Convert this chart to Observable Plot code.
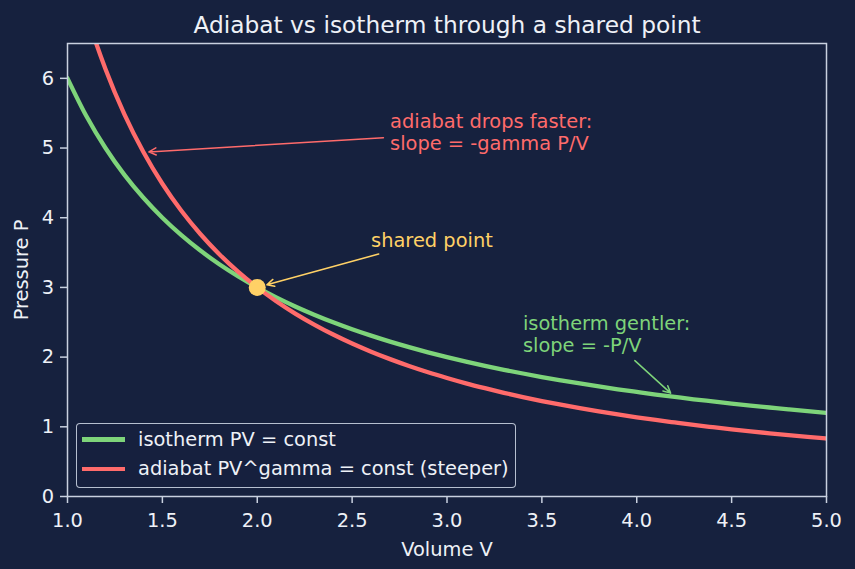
<!DOCTYPE html>
<html><head><meta charset="utf-8">
<script src="https://cdn.jsdelivr.net/npm/d3@7"></script>
<script src="https://cdn.jsdelivr.net/npm/@observablehq/plot@0.6"></script>
<style>
html,body{margin:0;padding:0;background:#16213e;}
#wrap{position:relative;width:855px;height:569px;font-family:"DejaVu Sans",sans-serif;}
#legend{position:absolute;left:76px;top:423px;width:440px;height:65px;box-sizing:border-box;border:1.5px solid rgba(201,209,224,0.9);border-radius:4px;padding-top:0.75px;background:rgba(22,33,62,0.8);}
.row{display:flex;align-items:center;height:29.5px;}
.sw{width:43px;height:4.3px;margin-left:4.5px;margin-right:13.5px;}
.lab{font-size:19.4px;color:#eef1f7;white-space:nowrap;line-height:1;}
</style></head>
<body>
<div id="wrap"><div id="chart"></div><div id="legend"></div></div>
<script>
// ---- data ----
const volume = [1.0,1.1,1.2,1.3,1.4,1.5,1.6,1.7,1.8,1.9,2.0,2.1,2.2,2.3,2.4,2.5,2.6,2.7,2.8,2.9,3.0,3.1,3.2,3.3,3.4,3.5,3.6,3.7,3.8,3.9,4.0,4.1,4.2,4.3,4.4,4.5,4.6,4.7,4.8,4.9,5.0];
const isothermP = [6.000,5.455,5.000,4.615,4.286,4.000,3.750,3.529,3.333,3.158,3.000,2.857,2.727,2.609,2.500,2.400,2.308,2.222,2.143,2.069,2.000,1.935,1.875,1.818,1.765,1.714,1.667,1.622,1.579,1.538,1.500,1.463,1.429,1.395,1.364,1.333,1.304,1.277,1.250,1.224,1.200];
const adiabatP = [7.917,6.928,6.134,5.483,4.943,4.488,4.100,3.767,3.477,3.223,3.000,2.802,2.625,2.467,2.324,2.195,2.078,1.971,1.873,1.783,1.701,1.624,1.554,1.488,1.427,1.370,1.317,1.268,1.221,1.178,1.137,1.098,1.062,1.027,0.995,0.964,0.935,0.907,0.881,0.856,0.832];
const seriesNames = ["isotherm PV = const", "adiabat PV^gamma = const (steeper)"];
const sharedV = [2.0];
const sharedP = [3.0];
const xTicks = [1.0,1.5,2.0,2.5,3.0,3.5,4.0,4.5,5.0];
const yTicks = [0,1,2,3,4,5,6];
const annLabels = ["adiabat drops faster:\nslope = -gamma P/V", "shared point", "isotherm gentler:\nslope = -P/V"];
const annTextV = [2.7, 2.6, 3.4];
const annTextP = [5.0, 3.6, 2.1];
const annTailV = [2.665, 2.64, 3.99];
const annTailP = [5.147, 3.48, 1.95];
const annHeadV = [1.4, 2.0, 4.2];
const annHeadP = [4.94, 3.0, 1.43];
const titleText = "Adiabat vs isotherm through a shared point";
const xLabel = "Volume V";
const yLabel = "Pressure P";

// ---- styling ----
const bg = "#16213e", fg = "#eef1f7", frameCol = "#c9d1e0";
const green = "#7ed47a", red = "#ff6b6b", yellow = "#ffd166";
const fs = 19.4, lh = 1.12;
const annColors = [red, yellow, green];
const annInset = [5.5, 10, 5.5];

const iso = volume.map((v, i) => ({V: v, P: isothermP[i]}));
const adi = volume.map((v, i) => ({V: v, P: adiabatP[i]}));
const shared = sharedV.map((v, i) => ({V: v, P: sharedP[i]}));

const annMarks = [];
annLabels.forEach((lab, i) => {
  const n = lab.split("\n").length;
  annMarks.push(Plot.arrow([i], {
    x1: () => annTailV[i], y1: () => annTailP[i], x2: () => annHeadV[i], y2: () => annHeadP[i],
    stroke: annColors[i], strokeWidth: 1.5, headLength: 8, headAngle: 53, insetEnd: annInset[i]
  }));
  annMarks.push(Plot.text([lab], {
    x: () => annTextV[i], y: () => annTextP[i], text: d => d,
    fill: annColors[i], fontSize: fs, textAnchor: "start", lineAnchor: "top", lineHeight: lh,
    dy: -(0.71 * fs + (n - 1) * lh * fs)
  }));
});

const chart = Plot.plot({
  width: 855, height: 569,
  marginTop: 43, marginRight: 29, marginBottom: 73, marginLeft: 67,
  style: {background: bg, color: fg, fontFamily: "DejaVu Sans, sans-serif", fontSize: fs + "px"},
  x: {domain: [1, 5]},
  y: {domain: [0, 6.5]},
  marks: [
    Plot.line(iso, {x: "V", y: "P", stroke: green, strokeWidth: 4.3, curve: "monotone-x", clip: true}),
    Plot.line(adi, {x: "V", y: "P", stroke: red, strokeWidth: 4.3, curve: "monotone-x", clip: true}),
    Plot.dot(shared, {x: "V", y: "P", r: 8.5, fill: yellow, stroke: "none"}),
    ...annMarks,
    Plot.frame({stroke: frameCol, strokeWidth: 1.5}),
    Plot.axisX({ticks: xTicks, tickFormat: d3.format(".1f"), tickSize: 7, tickPadding: 10, stroke: frameCol, strokeWidth: 1.5, fill: fg, fontSize: fs, label: null}),
    Plot.axisY({ticks: yTicks, tickFormat: d3.format("d"), tickSize: 7, tickPadding: 6.5, stroke: frameCol, strokeWidth: 1.5, fill: fg, fontSize: fs, label: null}),
    Plot.text([titleText], {frameAnchor: "top", text: d => d, dy: -18.2, fontSize: 23.3, fill: fg, textAnchor: "middle", lineAnchor: "middle"}),
    Plot.text([xLabel], {frameAnchor: "bottom", text: d => d, dy: 53.6, fontSize: fs, fill: fg, textAnchor: "middle", lineAnchor: "middle"}),
    Plot.text([yLabel], {frameAnchor: "left", text: d => d, dx: -45.7, rotate: -90, fontSize: fs, fill: fg, textAnchor: "middle", lineAnchor: "middle"})
  ]
});
document.getElementById("chart").appendChild(chart);

const legend = document.getElementById("legend");
[green, red].forEach((c, i) => {
  const row = document.createElement("div");
  row.className = "row";
  const sw = document.createElement("div");
  sw.className = "sw"; sw.style.background = c;
  const lab = document.createElement("span");
  lab.className = "lab"; lab.textContent = seriesNames[i];
  row.appendChild(sw); row.appendChild(lab);
  legend.appendChild(row);
});
</script>
</body></html>
